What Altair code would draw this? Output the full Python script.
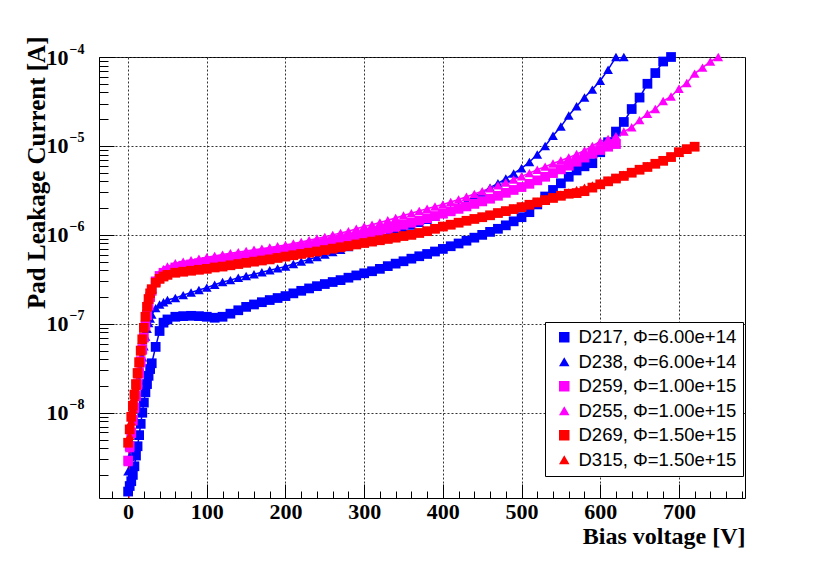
import altair as alt
import pandas as pd

# ---------------- data ----------------
SERIES = ["D217, Φ=6.00e+14", "D238, Φ=6.00e+14", "D259, Φ=1.00e+15",
          "D255, Φ=1.00e+15", "D269, Φ=1.50e+15", "D315, Φ=1.50e+15"]
COLORS = ["#0000ff", "#0000ff", "#ff00ff", "#ff00ff", "#ff0000", "#ff0000"]
SHAPES = ["square", "triangle-up", "square", "triangle-up", "square", "triangle-up"]

V_EARLY = [0, 2, 4, 6, 8, 10, 12, 14, 16, 18, 20, 22, 24, 26, 28, 30, 35, 40, 45, 50]
V_MAIN = [60, 70, 80, 90, 100, 110, 120, 130, 140, 150, 160, 170, 180, 190, 200,
          210, 220, 230, 240, 250, 260, 270, 280, 290, 300, 310, 320, 330, 340, 350,
          360, 370, 380, 390, 400, 410, 420, 430, 440, 450, 460, 470, 480, 490, 500,
          510, 520, 530, 540, 550, 560, 570, 580, 590, 600, 610, 620, 630, 640, 650,
          660, 670, 680, 690, 700, 710, 720, 730, 740, 750]
V_ALL = V_EARLY + V_MAIN

D217_I = [1.3e-9, 1.5e-9, 1.7e-9, 2.0e-9, 2.5e-9, 3.3e-9, 4.2e-9, 5.6e-9, 7.5e-9, 1.0e-8,
          1.3e-8, 1.7e-8, 2.1e-8, 2.6e-8, 3.1e-8, 3.6e-8, 5.5e-8, 8.3e-8, 1.03e-7, 1.12e-7,
          1.2e-7, 1.22e-7, 1.23e-7, 1.22e-7, 1.2e-7, 1.17e-7, 1.2e-7, 1.3e-7, 1.42e-7, 1.55e-7,
          1.65e-7, 1.75e-7, 1.85e-7, 1.95e-7, 2.05e-7, 2.2e-7, 2.35e-7, 2.5e-7, 2.65e-7, 2.8e-7,
          2.95e-7, 3.1e-7, 3.3e-7, 3.5e-7, 3.7e-7, 3.9e-7, 4.15e-7, 4.45e-7, 4.75e-7, 5.05e-7,
          5.4e-7, 5.75e-7, 6.1e-7, 6.5e-7, 6.95e-7, 7.45e-7, 8.0e-7, 8.6e-7, 9.3e-7, 1.0e-6,
          1.08e-6, 1.17e-6, 1.28e-6, 1.42e-6, 1.58e-6, 1.8e-6, 2.2e-6, 2.7e-6, 3.2e-6, 3.8e-6,
          4.5e-6, 5.3e-6, 5.9e-6, 6.4e-6, 8.5e-6, 1.1e-5, 1.45e-5, 1.86e-5, 2.6e-5, 3.5e-5,
          5.0e-5, 6.6e-5, 8.9e-5, 1.0e-4]

D238_I = [2.2e-9, 3.2e-9, 4.6e-9, 6.5e-9, 9e-9, 1.25e-8, 1.7e-8, 2.3e-8, 3.1e-8, 4.2e-8,
          5.6e-8, 7.2e-8, 8.8e-8, 1.02e-7, 1.15e-7, 1.27e-7, 1.5e-7, 1.65e-7, 1.75e-7, 1.85e-7,
          1.95e-7, 2.1e-7, 2.25e-7, 2.4e-7, 2.55e-7, 2.75e-7, 2.95e-7, 3.1e-7, 3.3e-7, 3.45e-7,
          3.6e-7, 3.8e-7, 4.0e-7, 4.2e-7, 4.4e-7, 4.7e-7, 5.0e-7, 5.3e-7, 5.65e-7, 6.0e-7,
          6.4e-7, 6.8e-7, 7.3e-7, 7.8e-7, 8.3e-7, 8.9e-7, 9.5e-7, 1.02e-6, 1.1e-6, 1.18e-6,
          1.27e-6, 1.37e-6, 1.48e-6, 1.6e-6, 1.74e-6, 1.9e-6, 2.1e-6, 2.4e-6, 2.7e-6, 3.0e-6,
          3.4e-6, 3.8e-6, 4.3e-6, 4.9e-6, 5.6e-6, 6.6e-6, 8.0e-6, 1.0e-5, 1.3e-5, 1.65e-5,
          2.2e-5, 2.8e-5, 3.5e-5, 4.3e-5, 5.4e-5, 7.2e-5, 1.0e-4, 1.0e-4]

D259_I = [2.9e-9, 4.2e-9, 6e-9, 8.3e-9, 1.15e-8, 1.55e-8, 2.1e-8, 2.8e-8, 3.8e-8, 5.2e-8,
          7e-8, 9.5e-8, 1.25e-7, 1.6e-7, 2.0e-7, 2.35e-7, 3.0e-7, 3.45e-7, 3.75e-7, 3.95e-7,
          4.3e-7, 4.5e-7, 4.65e-7, 4.8e-7, 4.95e-7, 5.1e-7, 5.25e-7, 5.4e-7, 5.55e-7, 5.7e-7,
          5.9e-7, 6.1e-7, 6.3e-7, 6.5e-7, 6.7e-7, 6.95e-7, 7.2e-7, 7.5e-7, 7.8e-7, 8.1e-7,
          8.45e-7, 8.8e-7, 9.2e-7, 9.6e-7, 1.01e-6, 1.06e-6, 1.11e-6, 1.17e-6, 1.23e-6, 1.3e-6,
          1.37e-6, 1.45e-6, 1.54e-6, 1.63e-6, 1.73e-6, 1.84e-6, 1.96e-6, 2.09e-6, 2.23e-6, 2.38e-6,
          2.55e-6, 2.75e-6, 2.97e-6, 3.2e-6, 3.45e-6, 3.75e-6, 4.1e-6, 4.5e-6, 4.95e-6, 5.45e-6,
          6.0e-6, 6.65e-6, 7.4e-6, 8.2e-6, 9.0e-6, 9.8e-6, 1.05e-5]

D255_I = [2.8e-9, 4e-9, 5.8e-9, 8e-9, 1.1e-8, 1.5e-8, 2e-8, 2.7e-8, 3.6e-8, 5e-8,
          7e-8, 9.5e-8, 1.3e-7, 1.7e-7, 2.1e-7, 2.5e-7, 3.2e-7, 3.7e-7, 4.1e-7, 4.4e-7,
          4.8e-7, 5.0e-7, 5.2e-7, 5.4e-7, 5.6e-7, 5.8e-7, 6.0e-7, 6.2e-7, 6.4e-7, 6.6e-7,
          6.8e-7, 7.0e-7, 7.2e-7, 7.45e-7, 7.7e-7, 8.0e-7, 8.3e-7, 8.7e-7, 9.1e-7, 9.5e-7,
          1.0e-6, 1.05e-6, 1.1e-6, 1.17e-6, 1.24e-6, 1.3e-6, 1.38e-6, 1.46e-6, 1.55e-6, 1.65e-6,
          1.75e-6, 1.86e-6, 1.97e-6, 2.08e-6, 2.2e-6, 2.34e-6, 2.5e-6, 2.68e-6, 2.88e-6, 3.1e-6,
          3.35e-6, 3.6e-6, 3.88e-6, 4.2e-6, 4.55e-6, 4.95e-6, 5.4e-6, 5.85e-6, 6.35e-6, 6.85e-6,
          7.4e-6, 8.1e-6, 8.9e-6, 1.0e-5, 1.12e-5, 1.2e-5, 1.29e-5, 1.45e-5, 1.62e-5, 1.95e-5,
          2.3e-5, 2.6e-5, 3.2e-5, 3.6e-5, 4.4e-5, 5.1e-5, 6.5e-5, 7.6e-5, 8.9e-5, 1.0e-4]

D269_I = [4.6e-9, 6.5e-9, 9e-9, 1.2e-8, 1.6e-8, 2.1e-8, 2.8e-8, 3.7e-8, 5e-8, 6.7e-8,
          9e-8, 1.2e-7, 1.55e-7, 1.9e-7, 2.2e-7, 2.45e-7, 2.9e-7, 3.2e-7, 3.4e-7, 3.55e-7,
          3.75e-7, 3.85e-7, 3.95e-7, 4.05e-7, 4.15e-7, 4.3e-7, 4.4e-7, 4.55e-7, 4.7e-7, 4.85e-7,
          5.0e-7, 5.15e-7, 5.3e-7, 5.5e-7, 5.7e-7, 5.9e-7, 6.1e-7, 6.3e-7, 6.5e-7, 6.75e-7,
          7.0e-7, 7.25e-7, 7.5e-7, 7.8e-7, 8.1e-7, 8.4e-7, 8.7e-7, 9.0e-7, 9.3e-7, 9.7e-7,
          1.0e-6, 1.05e-6, 1.1e-6, 1.17e-6, 1.24e-6, 1.3e-6, 1.37e-6, 1.44e-6, 1.51e-6, 1.58e-6,
          1.66e-6, 1.76e-6, 1.85e-6, 1.95e-6, 2.05e-6, 2.18e-6, 2.32e-6, 2.46e-6, 2.6e-6, 2.75e-6,
          2.9e-6, 2.95e-6, 3.1e-6, 3.4e-6, 3.7e-6, 4.0e-6, 4.3e-6, 4.6e-6, 5.0e-6, 5.4e-6,
          5.8e-6, 6.3e-6, 6.8e-6, 7.5e-6, 8.5e-6, 9.2e-6, 9.8e-6]

D315_I = [3e-10, 5.5e-9, 8e-9, 1.1e-8, 1.5e-8, 2e-8, 2.7e-8, 3.6e-8, 4.9e-8, 6.6e-8,
          9e-8, 1.2e-7, 1.55e-7, 1.9e-7, 2.25e-7, 2.5e-7, 2.95e-7, 3.25e-7, 3.45e-7, 3.6e-7,
          3.8e-7, 3.9e-7, 4.0e-7, 4.1e-7, 4.2e-7, 4.35e-7, 4.45e-7, 4.6e-7, 4.75e-7, 4.9e-7,
          5.05e-7, 5.2e-7, 5.4e-7, 5.6e-7, 5.8e-7, 6.0e-7, 6.2e-7, 6.4e-7, 6.6e-7, 6.85e-7,
          7.1e-7, 7.35e-7, 7.6e-7, 7.9e-7, 8.2e-7, 8.5e-7, 8.8e-7, 9.1e-7, 9.4e-7, 9.8e-7,
          1.01e-6, 1.06e-6, 1.11e-6, 1.18e-6, 1.25e-6, 1.31e-6, 1.38e-6, 1.45e-6, 1.52e-6, 1.6e-6,
          1.68e-6, 1.78e-6, 1.88e-6, 1.98e-6, 2.1e-6, 2.22e-6, 2.36e-6, 2.5e-6, 2.66e-6, 2.82e-6,
          3.0e-6, 3.2e-6, 3.4e-6, 3.6e-6, 3.85e-6, 4.1e-6, 4.4e-6, 4.75e-6, 5.1e-6, 5.5e-6,
          5.95e-6, 6.4e-6, 6.9e-6, 7.6e-6, 8.4e-6, 9.3e-6, 1.0e-5]

CURRENTS = [D217_I, D238_I, D259_I, D255_I, D269_I, D315_I]

X_TICKS = [0, 100, 200, 300, 400, 500, 600, 700]
Y_TICKS = [1e-8, 1e-7, 1e-6, 1e-5, 1e-4]
X_DOMAIN = [-37, 784]
Y_DOMAIN = [1.1e-9, 1e-4]

# ---------------- table ----------------
rows = []
for name, cur in zip(SERIES, CURRENTS):
    for i, (v, c) in enumerate(zip(V_ALL, cur)):
        rows.append({"series": name, "line": name, "V": v, "I": c, "k": i})
df = pd.DataFrame(rows)

X_MINOR = [v for v in range(-20, 781, 20)]
Y_MINOR = [m * 10.0 ** e for e in range(-9, -4) for m in range(2, 10)
           if m * 10.0 ** e >= Y_DOMAIN[0]]

xs = alt.Scale(domain=X_DOMAIN, nice=False, zero=False)
ys = alt.Scale(type="log", domain=Y_DOMAIN, nice=False)

SERIF = "Liberation Serif"
EXP_EXPR = "'\u2212' + format(-round(log(datum.value)/LN10), 'd')"

x_main_axis = alt.Axis(
    orient="bottom", values=X_TICKS, ticks=False, domain=False,
    labelFont=SERIF, labelFontWeight="bold", labelFontSize=22, labelColor="black",
    labelPadding=3,
    grid=True, gridDash=[2, 2], gridColor="#333333", gridWidth=1,
    title="Bias voltage [V]", titleFont=SERIF, titleFontWeight="bold", titleFontSize=24,
    titleColor="black", titleX=646, titleY=45, titleAlign="right",
    titleBaseline="alphabetic",
)
y_main_axis = alt.Axis(
    orient="left", values=Y_TICKS, ticks=False, domain=False,
    labelExpr="'10'",
    labelFont=SERIF, labelFontWeight="bold", labelFontSize=22, labelColor="black",
    labelPadding=31,
    grid=True, gridDash=[2, 2], gridColor="#333333", gridWidth=1,
    title="Pad Leakage Current [A]", titleFont=SERIF, titleFontWeight="bold",
    titleFontSize=25, titleColor="black", titleAngle=270, titleX=-55, titleY=-21,
    titleAlign="right", titleBaseline="alphabetic",
)
y_exp_axis = alt.Axis(
    orient="left", values=Y_TICKS, ticks=False, domain=False, grid=False,
    labelExpr=EXP_EXPR, labelFont=SERIF, labelFontWeight="bold", labelFontSize=14,
    labelColor="black", labelPadding=15, labelOffset=-8, title=None,
)


def tick_axis(orient, values, length):
    return alt.Axis(orient=orient, values=values, offset=-length, tickSize=length,
                    tickColor="black", tickWidth=1, labels=False, domain=False,
                    grid=False, title=None)


legend = alt.Legend(
    title=None, orient="none", legendX=446, legendY=265,
    fillColor="white", strokeColor="black", padding=6, cornerRadius=0,
    labelFont="Liberation Sans", labelFontSize=18.5, labelColor="black",
    symbolSize=110, symbolOffset=4, labelOffset=5, rowPadding=5.5,
)

# the line stroke scale lists the series in reverse order so that it is kept
# apart from the colour/shape legend of the markers
lines = alt.Chart(df).mark_line(strokeWidth=1.5, clip=True).encode(
    x=alt.X("V:Q", scale=xs, axis=x_main_axis),
    y=alt.Y("I:Q", scale=ys, axis=y_main_axis),
    stroke=alt.Stroke("line:N",
                      scale=alt.Scale(domain=SERIES[::-1], range=COLORS[::-1]),
                      legend=None),
    detail="line:N",
    order="k:Q",
)

points = alt.Chart(df).transform_filter(
    alt.datum.I >= Y_DOMAIN[0]
).mark_point(filled=True, size=95, opacity=1, clip=False).encode(
    x=alt.X("V:Q", scale=xs, axis=tick_axis("bottom", X_TICKS, 14)),
    y=alt.Y("I:Q", scale=ys, axis=tick_axis("left", Y_TICKS, 15)),
    color=alt.Color("series:N", scale=alt.Scale(domain=SERIES, range=COLORS),
                    legend=legend),
    shape=alt.Shape("series:N", scale=alt.Scale(domain=SERIES, range=SHAPES),
                    legend=legend),
)

minor = alt.Chart(df).transform_filter(
    alt.datum.I >= Y_DOMAIN[0]
).mark_point(opacity=0, size=1).encode(
    x=alt.X("V:Q", scale=xs, axis=tick_axis("bottom", X_MINOR, 7)),
    y=alt.Y("I:Q", scale=ys, axis=tick_axis("left", Y_MINOR, 9)),
)

exps = alt.Chart(df).transform_filter(
    alt.datum.I >= Y_DOMAIN[0]
).mark_point(opacity=0, size=1).encode(
    x=alt.X("V:Q", scale=xs, axis=None),
    y=alt.Y("I:Q", scale=ys, axis=y_exp_axis),
)

chart = alt.layer(lines, points, minor, exps).resolve_axis(
    x="independent", y="independent"
).properties(
    width=646, height=441,
    padding={"left": 91, "top": 49, "right": 77, "bottom": 61},
    autosize=alt.AutoSizeParams(type="none"),
    background="white",
).configure_view(
    stroke="black", strokeWidth=1
)

chart.save("out.html", embed_options={"renderer": "svg", "actions": False})
